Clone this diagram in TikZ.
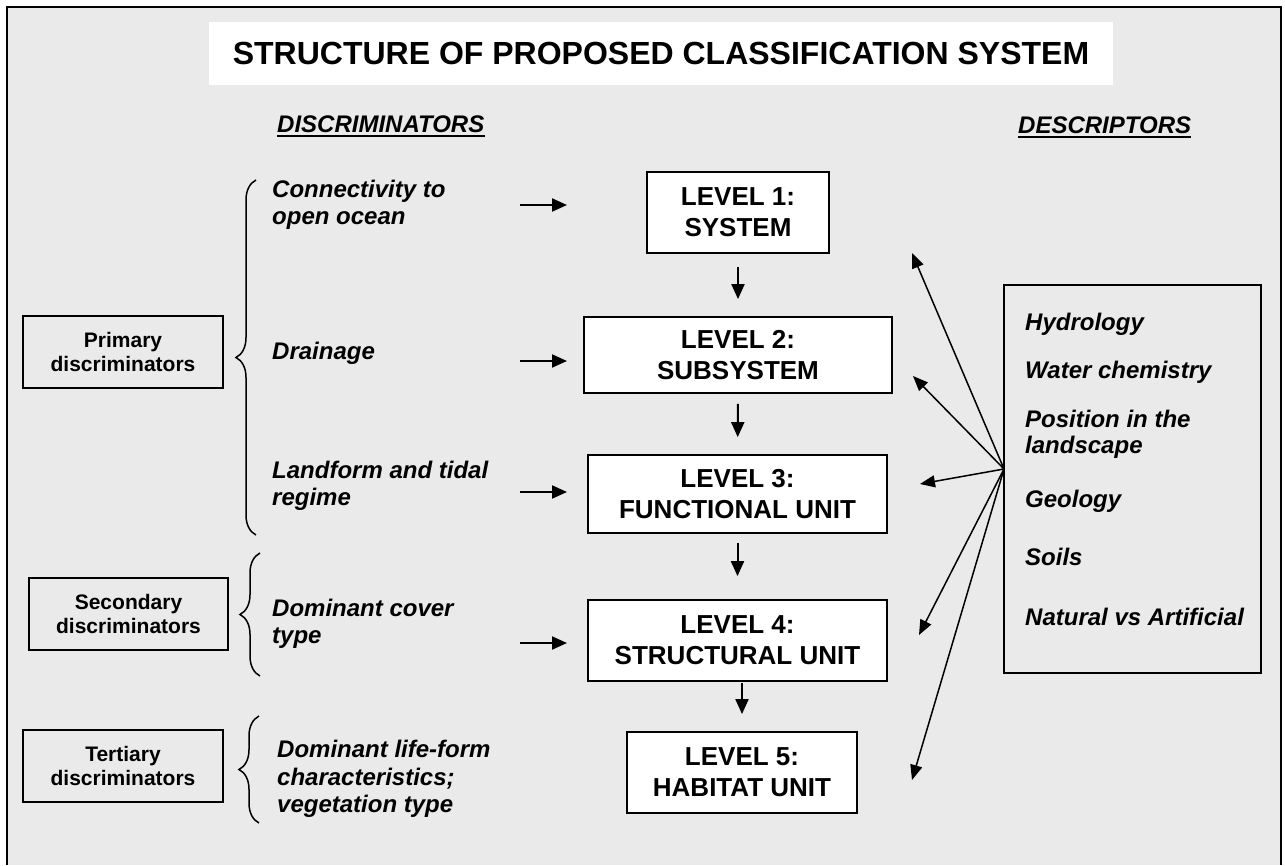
\documentclass[tikz,border=0pt]{standalone}
\usepackage{fontspec}
\setmainfont{Liberation Sans}
\usetikzlibrary{arrows.meta,decorations.pathreplacing,calc}
\definecolor{panel}{RGB}{234,234,234}
\begin{document}
\begin{tikzpicture}[x=1pt,y=-1pt,
  lvl/.style={draw,line width=1.8pt,fill=white,align=center,inner sep=0pt,
    font=\fontsize{26}{31}\selectfont\bfseries},
  tier/.style={draw,line width=1.8pt,align=center,inner sep=0pt,
    font=\fontsize{21}{24}\selectfont\bfseries},
  disc/.style={anchor=west,align=left,inner sep=0pt,
    font=\fontsize{24}{27.5}\selectfont\bfseries\itshape},
  descr/.style={anchor=base west,inner sep=0pt,
    font=\fontsize{24}{28}\selectfont\bfseries\itshape},
  hdr/.style={anchor=base west,inner sep=0pt,
    font=\fontsize{24}{28}\selectfont\bfseries\itshape},
  flow/.style={line width=2pt,-{Triangle[length=15pt,width=13pt]}},
  link/.style={line width=1.5pt,-{Triangle[length=15pt,width=12pt]}},
  curly/.style={line width=1.5pt,decorate,decoration={brace,amplitude=20pt}}
]
\useasboundingbox (0,0) rectangle (1285,865);
\fill[white] (0,0) rectangle (1285,865);

% panel with its frame (open at the bottom edge of the page)
\fill[panel] (7,7) rectangle (1281,865);
\draw[line width=2.5pt] (7,865) -- (7,7) -- (1281,7) -- (1281,865);

% title
\node[fill=white,minimum width=904,minimum height=63,inner sep=0pt,
  font=\fontsize{32}{36}\selectfont\bfseries] (title) at (661,53.5)
  {STRUCTURE OF PROPOSED CLASSIFICATION SYSTEM};

% column headings
\node[hdr] (dis) at (277,132) {DISCRIMINATORS};
\draw[line width=2.2pt] ([yshift=-4pt]dis.base west) -- ([yshift=-4pt]dis.base east);
\node[hdr] (des) at (1018,133) {DESCRIPTORS};
\draw[line width=2.2pt] ([yshift=-4pt]des.base west) -- ([yshift=-4pt]des.base east);

% discriminator tiers
\node[tier,minimum width=200,minimum height=72] (prim) at (123,352) {Primary\\discriminators};
\node[tier,minimum width=199,minimum height=72] (sec) at (128.5,614) {Secondary\\discriminators};
\node[tier,minimum width=200,minimum height=72] (ter) at (123,766) {Tertiary\\discriminators};

\draw[curly] (256,535) -- (256,180);
\draw[curly] (260,676) -- (260,553);
\draw[curly] (259,823) -- (259,716);

% discriminators
\node[disc] (d1) at (272,205) {Connectivity to\\open ocean};
\node[disc] (d2) at (272,353) {Drainage};
\node[disc] (d3) at (272,486) {Landform and tidal\\regime};
\node[disc] (d4) at (272,624) {Dominant cover\\type};
\node[disc] (d5) at (277,779) {Dominant life-form\\characteristics;\\vegetation type};

% hierarchy levels
\node[lvl,minimum width=182,minimum height=81] (L1) at (738,212.5) {LEVEL 1:\\SYSTEM};
\node[lvl,minimum width=308,minimum height=76] (L2) at (738,355) {LEVEL 2:\\SUBSYSTEM};
\node[lvl,minimum width=299,minimum height=78] (L3) at (737.5,494) {LEVEL 3:\\FUNCTIONAL UNIT};
\node[lvl,minimum width=299,minimum height=81] (L4) at (737.5,640.5) {LEVEL 4:\\STRUCTURAL UNIT};
\node[lvl,minimum width=230,minimum height=81] (L5) at (742,772.5) {LEVEL 5:\\HABITAT UNIT};

% discriminator arrows
\coordinate (a1s) at (520,205); \coordinate (a1e) at (567,205);
\coordinate (a2s) at (520,361); \coordinate (a2e) at (567,361);
\coordinate (a3s) at (520,492); \coordinate (a3e) at (567,492);
\coordinate (a4s) at (520,643); \coordinate (a4e) at (567,643);
\draw[flow] (a1s) -- (a1e);
\draw[flow] (a2s) -- (a2e);
\draw[flow] (a3s) -- (a3e);
\draw[flow] (a4s) -- (a4e);

% level-to-level arrows
\draw[flow,shorten <=13pt,shorten >=17pt] (L1) -- (L2);
\draw[flow,shorten <=10pt,shorten >=17pt] (L2) -- (L3);
\draw[flow,shorten <=9pt,shorten >=23pt] (L3) -- (L4);
\draw[flow,shorten <=1pt,shorten >=17pt] (L4.south -| L5.north) -- (L5.north);

% descriptors
\node[draw,line width=1.8pt,minimum width=257,minimum height=388,inner sep=0pt] (desc) at (1132.5,479) {};
\node[descr] (h1) at (1025,330) {Hydrology};
\node[descr] (h2) at (1025,378) {Water chemistry};
\node[descr] (h3) at (1025,427) {Position in the};
\node[descr] (h4) at (1025,453) {landscape};
\node[descr] (h5) at (1025,507) {Geology};
\node[descr] (h6) at (1025,565) {Soils};
\node[descr] (h7) at (1025,625) {Natural vs Artificial};

% descriptor fan
\coordinate (hub) at (1004,469);
\coordinate (t1) at (912,253);
\coordinate (t2) at (913,376);
\coordinate (t3) at (920,484);
\coordinate (t4) at (919,635);
\coordinate (t5) at (912,780);
\foreach \t in {t1,t2,t3,t4,t5} \draw[link] (hub) -- (\t);
\end{tikzpicture}
\end{document}
